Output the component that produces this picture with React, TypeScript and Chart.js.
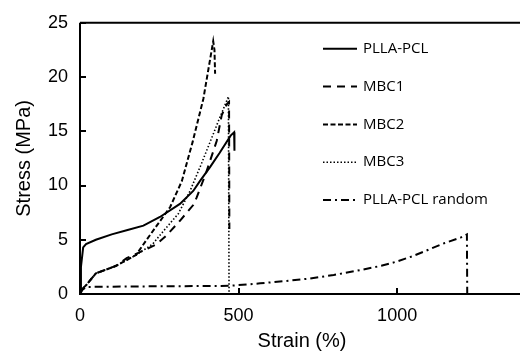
import React, { useEffect, useRef } from "react";
import { Chart, registerables } from "chart.js";

Chart.register(...registerables);

// ---- Data ----
const seriesNames = ["PLLA-PCL", "MBC1", "MBC2", "MBC3", "PLLA-PCL random"];

const pllaPclStrain = [0, 3, 10, 19, 50, 100, 150, 200, 252, 315, 357, 378, 410, 440, 475, 486, 487];
const pllaPclStress = [0, 2.5, 4.3, 4.6, 5.0, 5.5, 5.9, 6.3, 7.1, 8.3, 9.5, 10.4, 11.7, 13.0, 14.6, 14.9, 13.2];

const mbc1Strain = [0, 5, 19, 50, 114, 147, 200, 242, 273, 315, 357, 368, 399, 431, 447, 463, 470, 471];
const mbc1Stress = [0, 0.4, 0.8, 1.9, 2.6, 3.3, 4.0, 4.6, 5.4, 6.75, 8.2, 8.9, 11.3, 14.1, 16.5, 17.5, 17.7, 6.0];

const mbc2Strain = [0, 5, 19, 50, 114, 177, 210, 242, 284, 321, 355, 389, 420, 424, 426];
const mbc2Stress = [0, 0.4, 0.8, 1.9, 2.6, 3.6, 5.0, 6.3, 8.0, 10.4, 14.0, 18.0, 23.3, 22.5, 20.3];

const mbc3Strain = [0, 5, 19, 50, 114, 177, 229, 263, 310, 347, 380, 410, 440, 468, 470];
const mbc3Stress = [0, 0.4, 0.8, 1.9, 2.6, 3.6, 4.6, 5.8, 7.4, 9.5, 11.8, 14.0, 16.2, 18.2, 0];

const randomStrain = [0, 8, 20, 200, 470, 568, 650, 726, 800, 883, 950, 1000, 1050, 1100, 1150, 1200, 1220, 1221];
const randomStress = [0, 0.4, 0.65, 0.7, 0.75, 0.98, 1.2, 1.43, 1.75, 2.2, 2.6, 3.0, 3.5, 4.1, 4.7, 5.2, 5.5, 0];

const xTickValues = [0, 500, 1000];
const yTickValues = [0, 5, 10, 15, 20, 25];

const dashes: number[][] = [[], [8, 6], [5, 2.5], [1.5, 2], [8, 4, 2, 4]];
const widths = [2, 2, 2, 1.6, 2];

const pts = (xs: number[], ys: number[]) => xs.map((x, i) => ({ x, y: ys[i] }));

const decor = {
  id: "decor",
  afterDraw(chart: any) {
    const { ctx, chartArea: a, scales } = chart;
    ctx.save();
    ctx.strokeStyle = "#000";
    ctx.lineWidth = 2;
    ctx.setLineDash([]);
    // axes + top frame
    ctx.beginPath();
    ctx.moveTo(a.left, a.top);
    ctx.lineTo(a.right + 10, a.top);
    ctx.moveTo(a.left, a.top);
    ctx.lineTo(a.left, a.bottom);
    ctx.lineTo(a.right + 10, a.bottom);
    ctx.stroke();
    // inward ticks
    ctx.beginPath();
    scales.x.ticks.forEach((t: any) => {
      const px = Math.round(scales.x.getPixelForValue(t.value));
      ctx.moveTo(px, a.bottom);
      ctx.lineTo(px, a.bottom - 6);
    });
    scales.y.ticks.forEach((t: any) => {
      const py = Math.round(scales.y.getPixelForValue(t.value));
      ctx.moveTo(a.left, py);
      ctx.lineTo(a.left + 6, py);
    });
    ctx.stroke();
    // legend
    const x0 = a.left + 243;
    const x1 = a.left + 277;
    ctx.font = "15px 'Open Sans', 'Liberation Sans', sans-serif";
    ctx.fillStyle = "#000";
    ctx.textBaseline = "middle";
    ctx.textAlign = "left";
    chart.data.datasets.forEach((ds: any, i: number) => {
      const y = a.top + 26 + i * 37.8;
      ctx.setLineDash(ds.borderDash || []);
      ctx.lineWidth = ds.borderWidth;
      ctx.beginPath();
      ctx.moveTo(x0, y);
      ctx.lineTo(x1, y);
      ctx.stroke();
      ctx.setLineDash([]);
      ctx.fillText(ds.label, x1 + 6, y);
    });
    ctx.restore();
  },
};

export default function App() {
  const ref = useRef<HTMLCanvasElement>(null);
  useEffect(() => {
    document.body.style.margin = "0";
    document.body.style.overflow = "hidden";
    const all = [
      pts(pllaPclStrain, pllaPclStress),
      pts(mbc1Strain, mbc1Stress),
      pts(mbc2Strain, mbc2Stress),
      pts(mbc3Strain, mbc3Stress),
      pts(randomStrain, randomStress),
    ];
    const chart = new Chart(ref.current!, {
      type: "line",
      data: {
        datasets: all.map((d, i) => ({
          label: seriesNames[i],
          data: d,
          borderColor: "#000",
          backgroundColor: "#000",
          borderWidth: widths[i],
          borderDash: dashes[i],
          pointRadius: 0,
          tension: 0,
          fill: false,
        })),
      },
      options: {
        animation: false,
        responsive: false,
        devicePixelRatio: 1,
        layout: { padding: { left: 0, right: 6, top: 20, bottom: 0 } },
        plugins: { legend: { display: false }, tooltip: { enabled: false } },
        scales: {
          x: {
            type: "linear",
            min: 0,
            max: 1400,
            afterBuildTicks: (s: any) => {
              s.ticks = xTickValues.map((v) => ({ value: v }));
            },
            afterFit: (s: any) => {
              s.height = 59;
            },
            grid: { display: false, drawTicks: false },
            border: { display: false },
            ticks: {
              color: "#000",
              padding: 11,
              maxRotation: 0,
              callback: (v: any) => String(v),
              font: { family: "'Liberation Sans', Arial, sans-serif", size: 18 },
            },
            title: {
              display: true,
              text: "Strain (%)",
              color: "#000",
              padding: { top: 0, bottom: 0 },
              font: { family: "'Liberation Sans', Arial, sans-serif", size: 20 },
            },
          },
          y: {
            type: "linear",
            min: 0,
            max: 25,
            afterBuildTicks: (s: any) => {
              s.ticks = yTickValues.map((v) => ({ value: v }));
            },
            afterFit: (s: any) => {
              s.width = 80;
            },
            grid: { display: false, drawTicks: false },
            border: { display: false },
            ticks: {
              color: "#000",
              padding: 12,
              callback: (v: any) => String(v),
              font: { family: "'Liberation Sans', Arial, sans-serif", size: 18 },
            },
            title: {
              display: true,
              text: "Stress (MPa)",
              color: "#000",
              padding: { top: 12, bottom: 0 },
              font: { family: "'Liberation Sans', Arial, sans-serif", size: 20 },
            },
          },
        },
      },
      plugins: [decor],
    } as any);
    return () => chart.destroy();
  }, []);
  return (
    <div style={{ width: 530, height: 353, position: "relative" }}>
      <canvas ref={ref} width={530} height={353} style={{ width: 530, height: 353, display: "block" }} />
    </div>
  );
}
